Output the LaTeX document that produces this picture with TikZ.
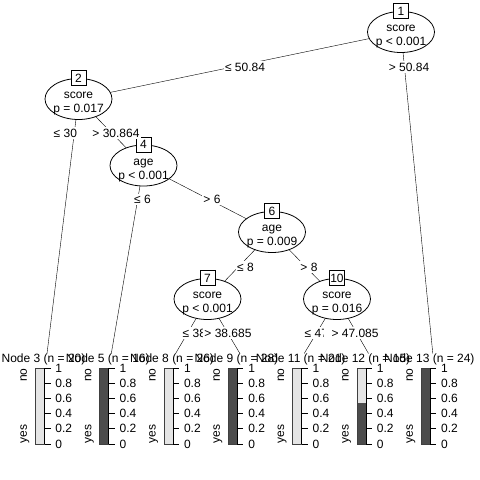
\documentclass[tikz,border=0pt]{standalone}
\usepackage{fontspec}
\setmainfont{Liberation Sans}
\usepackage{xcolor}
\usetikzlibrary{shapes.geometric,backgrounds}

\definecolor{lightbar}{gray}{0.9}
\definecolor{darkbar}{gray}{0.3}
\definecolor{barline}{gray}{0.25}

\begin{document}
\begin{tikzpicture}[x=1pt,y=-1pt,line width=0.8pt,
	every node/.style={font=\fontsize{12}{14}\selectfont},
	split/.style={ellipse,draw,fill=white,minimum width=67,minimum height=41,inner sep=0},
	splittext/.style={align=center,anchor=center,yshift=-5pt},
	idbox/.style={rectangle,draw,fill=white,minimum size=15,inner sep=1},
	cond/.style={fill=white,inner sep=1.5}]
	\useasboundingbox (0,0) rectangle (480,480);

	% inner nodes
	\node[split,label={[splittext]center:score\\p < 0.001}] (n1) at (401,32) {};
	\node[idbox] (b1) at (n1.north) {1};
	\node[split,label={[splittext]center:score\\p = 0.017}] (n2) at (78.5,99) {};
	\node[idbox] (b2) at (n2.north) {2};
	\node[split,label={[splittext]center:age\\p < 0.001}] (n4) at (143.5,165.5) {};
	\node[idbox] (b4) at (n4.north) {4};
	\node[split,label={[splittext]center:age\\p = 0.009}] (n6) at (272,232) {};
	\node[idbox] (b6) at (n6.north) {6};
	\node[split,label={[splittext]center:score\\p < 0.001}] (n7) at (207.5,299) {};
	\node[idbox] (b7) at (n7.north) {7};
	\node[split,label={[splittext]center:score\\p = 0.016}] (n10) at (337,299) {};
	\node[idbox] (b10) at (n10.north) {10};

	% terminal nodes
	\foreach \leaf/\bx/\cnt/\fr in {3/40/20/0,5/104.3/16/1,8/168.6/26/0,9/232.9/28/1,11/297.2/21/0,12/361.5/15/0.533,13/425.8/24/1}{
		\node[anchor=north,inner sep=0] (l\leaf) at (\bx+3.5,353.5) {Node \leaf\ (n = \cnt)};
		\coordinate (t\leaf) at (\bx+7,353.5);
		\fill[lightbar] (\bx-4.5,368) rectangle (\bx+4.5,444);
		\fill[darkbar] (\bx-4.5,444) rectangle (\bx+4.5,444-76*\fr);
		\draw[barline] (\bx-4.5,368) rectangle (\bx+4.5,444);
		\draw (\bx+4.5,368) -- (\bx+4.5,444);
		\foreach \t/\tl in {0/0,0.2/0.2,0.4/0.4,0.6/0.6,0.8/0.8,1/1}{
			\draw (\bx+4.5,444-76*\t) -- (\bx+10.5,444-76*\t);
			\node[anchor=west,inner sep=0] at (\bx+15,444-76*\t) {\tl};
		}
		\node[rotate=90,anchor=base east,inner sep=0] at (\bx-13,368) {no};
		\node[rotate=90,anchor=base west,inner sep=0] at (\bx-13,444) {yes};
	}

	% edges
	\begin{scope}[on background layer]
		\draw (n1.center) -- (n2.center);
		\draw (n1.center) -- (t13);
		\draw (n2.center) -- (t3);
		\draw (n2.center) -- (n4.center);
		\draw (n4.center) -- (t5);
		\draw (n4.center) -- (n6.center);
		\draw (n6.center) -- (n7.center);
		\draw (n6.center) -- (n10.center);
		\draw (n7.center) -- (t8);
		\draw (n7.center) -- (t9);
		\draw (n10.center) -- (t11);
		\draw (n10.center) -- (t12);
	\end{scope}

	% split labels
	\node[cond] (c2) at (245,67) {≤ 50.84};
	\node[cond] (c13) at (409,67) {> 50.84};
	\node[cond] (c3) at (77,133) {≤ 30.864};
	\node[cond] (c4) at (109,133) {\hspace*{14pt}> 30.864};
	\node[cond] (c5) at (142.5,199.5) {≤ 6};
	\node[cond] (c6) at (212,199.5) {> 6};
	\node[cond] (c7) at (245.5,267) {≤ 8};
	\node[cond] (c10) at (309,267) {> 8};
	\node[cond] (c8) at (206,333) {≤ 38.685};
	\node[cond] (c9) at (228,333) {> 38.685};
	\node[cond] (c11) at (328,333) {≤ 47.085};
	\node[cond] (c12) at (351.8,333) {\hspace*{6.5pt}> 47.085};
\end{tikzpicture}
\end{document}
